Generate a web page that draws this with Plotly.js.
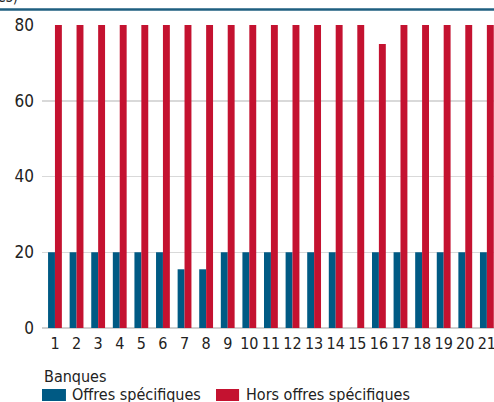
<!DOCTYPE html>
<html><head><meta charset="utf-8">
<script src="https://cdn.plot.ly/plotly-3.0.1.min.js"></script>
<style>html,body{margin:0;padding:0;background:#fff;}#c{width:494px;height:402px;}</style>
</head><body><div id="c"></div>
<script>
var banques = [1,2,3,4,5,6,7,8,9,10,11,12,13,14,15,16,17,18,19,20,21];
var offresSpecifiques = [20,20,20,20,20,20,15.5,15.5,20,20,20,20,20,20,0,20,20,20,20,20,20];
var horsOffresSpecifiques = [80,80,80,80,80,80,80,80,80,80,80,80,80,80,80,75,80,80,80,80,80];
var nomsSeries = ["Offres spécifiques","Hors offres spécifiques"];
var couleurs = ["#005a84","#c41230"];
var FONT = "DejaVu Sans Condensed, Liberation Sans Narrow, Liberation Sans, sans-serif";

var traces = [
  {type:"bar", x:banques, y:offresSpecifiques, name:nomsSeries[0], marker:{color:couleurs[0]}, showlegend:false, hoverinfo:"none"},
  {type:"bar", x:banques, y:horsOffresSpecifiques, name:nomsSeries[1], marker:{color:couleurs[1]}, showlegend:false, hoverinfo:"none"}
];
var H = 303;
function py(pix){ return (328 - pix) / H; }
var layout = {
  width:494, height:402,
  margin:{l:42, r:0, t:25, b:74},
  paper_bgcolor:"#fff", plot_bgcolor:"#fff",
  font:{family:FONT, size:16, color:"#222"},
  barmode:"group", bargap:0.36, bargroupgap:0,
  xaxis:{range:[0.4,21.33], tickmode:"array", tickvals:banques, ticktext:banques.map(String),
         showgrid:false, zeroline:false, showline:false, ticks:"", ticklabeloverflow:"allow",
         ticklabelstandoff:4, tickfont:{size:16, family:FONT}, fixedrange:true},
  yaxis:{range:[0,80], tickvals:[0,20,40,60,80], showgrid:true, gridcolor:"#d9d9d9", gridwidth:1.5,
         zeroline:true, zerolinecolor:"#d0d0d0", zerolinewidth:1.5, ticks:"", ticklen:0, ticklabelstandoff:7,
         tickfont:{size:17, family:FONT}, fixedrange:true},
  shapes:[
    {type:"line", xref:"paper", yref:"paper", x0:-0.1, x1:1.01, y0:py(9.5), y1:py(9.5), line:{color:"#1f5f80", width:2.5}},
    {type:"rect", xref:"paper", yref:"paper", x0:0, x1:0.053, y0:py(389), y1:py(401), line:{width:0}, fillcolor:couleurs[0]},
    {type:"rect", xref:"paper", yref:"paper", x0:0.385, x1:0.436, y0:py(389), y1:py(401), line:{width:0}, fillcolor:couleurs[1]}
  ],
  annotations:[
    {xref:"paper", yref:"paper", x:0.0, y:py(376), xanchor:"left", yanchor:"middle", text:"Banques", showarrow:false, font:{size:16, family:FONT, color:"#222"}},
    {xref:"paper", yref:"paper", x:0.062, y:py(395), xanchor:"left", yanchor:"middle", text:nomsSeries[0], showarrow:false, font:{size:16, family:FONT, color:"#222"}},
    {xref:"paper", yref:"paper", x:0.447, y:py(395), xanchor:"left", yanchor:"middle", text:nomsSeries[1], showarrow:false, font:{size:16, family:FONT, color:"#222"}},
    {xref:"paper", yref:"paper", x:-0.048, y:py(-3), xanchor:"right", yanchor:"middle", text:"(en nombre de banques)", showarrow:false, font:{size:15, family:FONT, color:"#222"}}
  ]
};
Plotly.newPlot("c", traces, layout, {displayModeBar:false, staticPlot:true});
</script></body></html>
